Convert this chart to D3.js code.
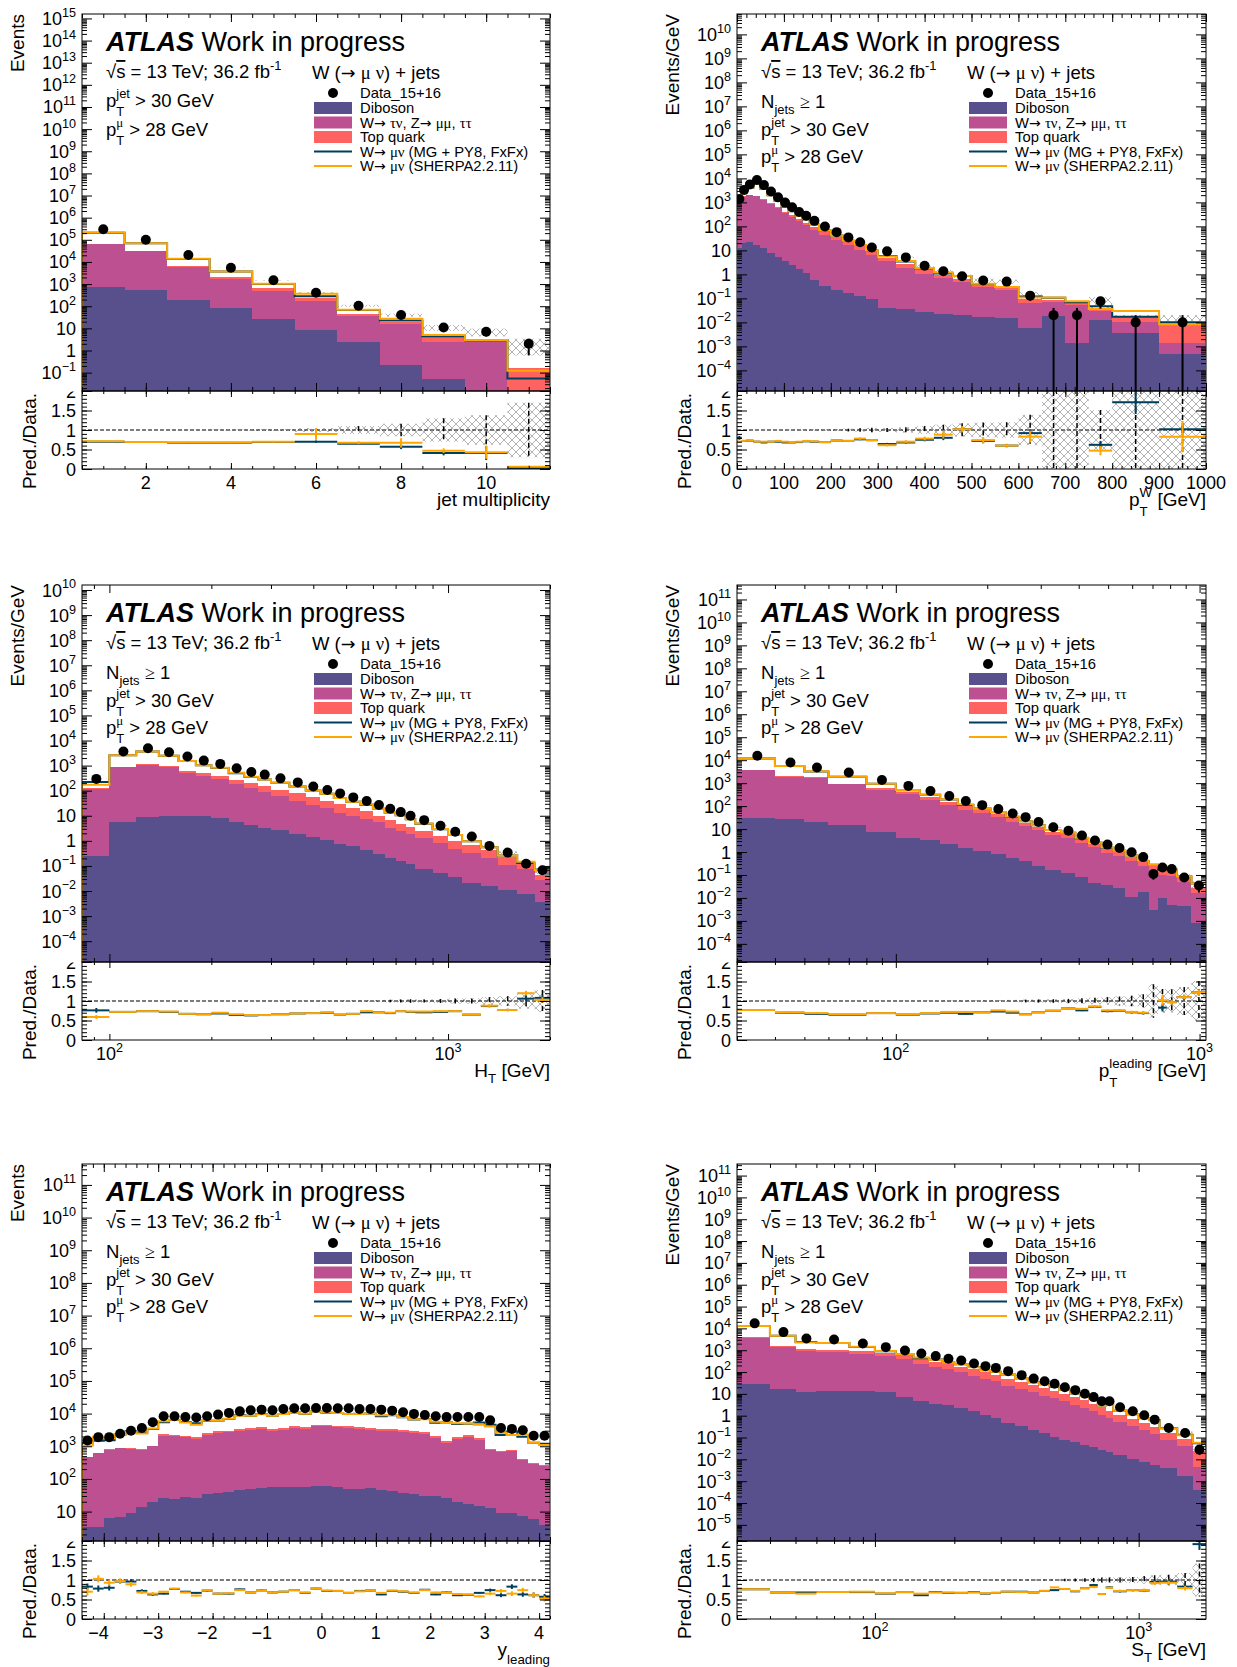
<!DOCTYPE html>
<html><head><meta charset="utf-8">
<script src="https://cdn.jsdelivr.net/npm/d3@7/dist/d3.min.js"></script>
<style>
html,body{margin:0;padding:0;background:#fff;}
svg{display:block;}
text{font-family:'Liberation Sans',Arial,Helvetica,sans-serif;white-space:pre;fill:#000;}
</style></head><body>
<svg id="chart" width="1237" height="1667" xmlns="http://www.w3.org/2000/svg"></svg>
<script>
// ---------------- Panel 1: jet multiplicity ----------------
const p1Edges = [0.5,1.5,2.5,3.5,4.5,5.5,6.5,7.5,8.5,9.5,10.5,11.5];
const p1Data = [300000,100000,20400,5500,1480,407,105,40,11,7,2];
const p1Dib = [720,550,195,79,27.5,8.1,2.5,0.21,0.05,0.005,0];
const p1Taunu = [65000,30000,5700,1660,485,162,32,14.9,2.35,2.7,0.005];
const p1Top = [1500,1200,860,400,163,64,11,4.4,1.67,0.2,0.15];
const p1MG = [210000,69000,13700,3680,1020,285,68,22.8,4.4,2.9,0.054];
const p1Sherpa = [213000,69000,13900,3740,1036,366,70,26.8,5.0,3.0,0.12];
const p1RatioMG = [0.70,0.69,0.67,0.67,0.69,0.70,0.65,0.57,0.41,0.41,0.027];
const p1RatioSh = [0.71,0.69,0.68,0.68,0.70,0.90,0.67,0.67,0.47,0.43,0.06];
const p1Err = [0.002,0.003,0.007,0.013,0.026,0.05,0.1,0.16,0.3,0.38,0.7];
const p1ErrMG = [0.01,0.01,0.01,0.01,0.02,0.03,0.03,0.06,0.06,0.18,0.01];
const p1ErrSh = [0.01,0.01,0.01,0.02,0.02,0.15,0.04,0.12,0.06,0.17,0.03];

// ---------------- Panel 2: pT W ----------------
const p2Edges = [0,10,20,35,50,65,80,95,110,125,140,155,175,200,225,250,275,300,340,380,420,460,500,550,600,650,700,750,800,900,1000];
const p2Data = [1380,3310,5620,8510,5250,2820,1620,977,631,398,275,170,98,57.5,34.7,21.9,13.2,9.1,5.1,2.3,1.35,0.83,0.56,0.50,0.13,0.02,0.02,0.076,0.01,0.01];
const p2Dib = [12.6,21,23,17,12.6,7.8,5.3,3.5,2.4,1.7,1.14,0.6,0.34,0.23,0.17,0.123,0.098,0.041,0.035,0.028,0.023,0.0195,0.017,0.0145,0.006,0.018,0.0014,0.0123,0.0037,0.0005];
const p2Taunu = [837,1719,2017,1843,1247,842,570,351,255,172,114,71,44.7,25.7,16.8,10.6,6.5,3.46,1.83,1.04,0.69,0.45,0.28,0.205,0.059,0.051,0.054,0.018,0.0065,0.0009];
const p2Top = [15,40,60,70,60,50,45,40,35,30,25,22,17,11,7,4.8,3.0,1.5,0.9,0.45,0.27,0.2,0.08,0.06,0.03,0.02,0.008,0.01,0.006,0.0077];
const p2MG = [1100,2380,4100,5960,3570,1974,1134,664,429,275,195,119,67.6,42,25,16.6,9.8,5.8,3.47,1.72,1.08,0.85,0.40,0.30,0.12,0.105,0.069,0.047,0.0171,0.0102];
const p2Sherpa = [966,2380,4160,5960,3675,1974,1166,684,435,279,198,121,67.6,42,25,17.1,9.8,5.55,3.57,1.79,1.19,0.85,0.41,0.30,0.108,0.11,0.075,0.036,0.03,0.0083];
const p2RatioMG = [0.80,0.72,0.73,0.70,0.68,0.70,0.70,0.68,0.68,0.69,0.71,0.70,0.69,0.73,0.72,0.76,0.74,0.64,0.68,0.75,0.80,1.02,0.72,0.60,0.92,5.2,3.5,0.62,1.71,1.02];
const p2RatioSh = [0.70,0.72,0.74,0.70,0.70,0.70,0.72,0.70,0.69,0.70,0.72,0.71,0.69,0.73,0.72,0.78,0.74,0.61,0.70,0.78,0.88,1.02,0.74,0.60,0.83,5.5,3.75,0.47,3.0,0.83];
const p2Err = [0.0085,0.0055,0.0034,0.0028,0.0036,0.0049,0.0064,0.0083,0.010,0.013,0.016,0.017,0.020,0.026,0.034,0.043,0.055,0.052,0.07,0.10,0.136,0.17,0.19,0.2,0.39,1,1,0.51,1,1];
const p2ErrMG = [0.05,0.01,0.01,0.01,0.01,0.01,0.01,0.01,0.01,0.01,0.01,0.01,0.01,0.01,0.01,0.02,0.02,0.03,0.03,0.04,0.06,0.07,0.06,0.04,0.1,0,0,0.1,0.3,0.1];
const p2ErrSh = [0.02,0.02,0.01,0.01,0.01,0.01,0.01,0.01,0.01,0.01,0.02,0.02,0.02,0.02,0.02,0.03,0.03,0.03,0.04,0.05,0.1,0.08,0.08,0.05,0.15,0,0,0.12,0.3,0.4];

// ---------------- Panel 3: HT ----------------
const p3Edges = [83,100,120,140,160,180,200,225,250,275,300,340,380,420,460,500,550,600,650,700,750,800,900,1000,1100,1250,1400,1600,1800,2000];
const p3Data = [295,3630,4900,3400,2290,1580,1170,780,560,437,310,214,148,107,78,54,39,27,19,14,10,6.7,4.0,2.3,1.48,0.63,0.34,0.123,0.067];
const p3Dib = [0.25,5.4,9.1,9.7,9.7,9.5,7.8,5.9,4.4,3.4,2.7,1.86,1.45,1.07,0.78,0.63,0.43,0.31,0.20,0.16,0.117,0.078,0.054,0.036,0.021,0.016,0.0107,0.0074,0.0036];
const p3Taunu = [117,845,1061,840,503,362,287,180,119,82,56,38,25.5,19,12.7,9.4,7.0,5.1,3.2,2.34,1.74,1.2,0.73,0.43,0.32,0.19,0.10,0.067,0.025];
const p3Top = [7,60,100,150,118,141,103,89,81,63,51,41,27,20,16,10.4,7.4,4.6,3.5,2.4,1.74,1.22,0.8,0.53,0.34,0.22,0.12,0.043,0.015];
const p3MG = [224,2614,3626,2448,1534,1043,796,499,353,280,205,146,102,75,50.7,36.2,27.7,19.2,13.1,10.4,7.2,4.76,2.88,1.70,0.96,0.55,0.26,0.130,0.072];
const p3Sherpa = [174,2614,3626,2482,1534,1043,819,515,358,280,205,146,102,76,50.7,36.2,28.9,19.2,13.3,10.4,7.3,4.9,2.96,1.70,0.96,0.555,0.26,0.148,0.069];
const p3RatioMG = [0.76,0.72,0.74,0.72,0.67,0.66,0.68,0.64,0.63,0.64,0.66,0.68,0.69,0.70,0.65,0.67,0.71,0.71,0.69,0.74,0.72,0.71,0.72,0.74,0.65,0.87,0.77,1.06,1.08];
const p3RatioSh = [0.59,0.72,0.74,0.73,0.67,0.66,0.70,0.66,0.64,0.64,0.66,0.68,0.69,0.71,0.65,0.67,0.74,0.71,0.70,0.74,0.73,0.73,0.74,0.74,0.65,0.88,0.77,1.20,1.03];
const p3Err = [0.014,0.0037,0.0032,0.0038,0.0047,0.0056,0.0058,0.0072,0.0085,0.0096,0.009,0.011,0.013,0.015,0.018,0.019,0.023,0.027,0.032,0.038,0.045,0.039,0.05,0.066,0.067,0.10,0.12,0.2,0.28];
const p3ErrMG = [0.06,0.01,0.01,0.01,0.01,0.01,0.01,0.01,0.01,0.01,0.01,0.01,0.01,0.01,0.01,0.01,0.01,0.01,0.01,0.01,0.01,0.02,0.02,0.02,0.02,0.03,0.03,0.06,0.08];
const p3ErrSh = [0.05,0.01,0.01,0.01,0.01,0.01,0.01,0.01,0.01,0.01,0.01,0.01,0.01,0.01,0.01,0.01,0.02,0.02,0.02,0.02,0.02,0.02,0.02,0.02,0.02,0.04,0.03,0.06,0.07];

// ---------------- Panel 4: pT leading ----------------
const p4Edges = [30,40,50,60,80,100,120,140,160,180,205,230,255,280,310,350,390,430,475,520,570,625,680,730,780,840,940,1050];
const p4Data = [15500,7940,4790,2890,1380,760,457,275,166,110,74,48,33,20.4,12,8.5,5.2,3.16,2.1,1.5,0.98,0.60,0.11,0.21,0.18,0.078,0.035];
const p4Dib = [29,27,20.4,14.7,7.2,4.1,3.2,2.2,1.5,1.07,0.81,0.55,0.39,0.25,0.16,0.12,0.078,0.047,0.037,0.026,0.0114,0.019,0.0030,0.0098,0.0049,0.0044,0.00078];
const p4Taunu = [3600,1833,1600,870,493,343,175,115,69.5,49,32,20.8,12.8,8.45,5.3,4.0,2.35,1.53,0.9,0.63,0.39,0.22,0.157,0.095,0.09,0.046,0.015];
const p4Top = [170,140,160,60,130,70,73,41,29,18,14,7.6,5.4,3.6,2.3,1.9,1.1,0.76,0.45,0.32,0.2,0.12,0.08,0.061,0.055,0.026,0.01];
const p4MG = [11900,5560,3210,1880,952,494,311,193,111,78,54,33.6,21.8,14.5,9.0,6.9,3.95,2.69,1.55,1.13,0.70,0.41,0.28,0.174,0.175,0.086,0.043];
const p4Sherpa = [11900,5640,3300,1910,952,502,315,198,120,78,56,35,21.8,14.5,9.0,6.9,4.16,2.72,1.60,1.14,0.71,0.42,0.28,0.214,0.175,0.086,0.043];
const p4RatioMG = [0.77,0.70,0.67,0.65,0.69,0.65,0.68,0.70,0.67,0.71,0.73,0.70,0.66,0.71,0.75,0.81,0.76,0.85,0.74,0.75,0.71,0.69,2.5,0.83,0.97,1.10,1.22];
const p4RatioSh = [0.77,0.71,0.69,0.66,0.69,0.66,0.69,0.72,0.72,0.71,0.76,0.73,0.66,0.71,0.75,0.81,0.80,0.86,0.76,0.76,0.72,0.70,2.5,1.02,0.97,1.10,1.22];
const p4Err = [0.0025,0.0035,0.0046,0.0042,0.006,0.008,0.0105,0.0135,0.017,0.019,0.023,0.029,0.035,0.04,0.046,0.054,0.069,0.084,0.10,0.115,0.136,0.174,0.43,0.31,0.30,0.36,0.51];
const p4ErrMG = [0.01,0.01,0.01,0.01,0.01,0.01,0.01,0.01,0.01,0.01,0.01,0.01,0.01,0.01,0.02,0.02,0.02,0.03,0.03,0.03,0.03,0.04,0.1,0.1,0.06,0.06,0.08];
const p4ErrSh = [0.01,0.01,0.01,0.01,0.01,0.01,0.01,0.01,0.01,0.01,0.01,0.01,0.01,0.01,0.02,0.02,0.02,0.03,0.03,0.03,0.03,0.04,0.1,0.14,0.06,0.06,0.08];

// ---------------- Panel 5: y leading ----------------
const p5Edges = [-4.4,-4.2,-4.0,-3.8,-3.6,-3.4,-3.2,-3.0,-2.8,-2.6,-2.4,-2.2,-2.0,-1.8,-1.6,-1.4,-1.2,-1.0,-0.8,-0.6,-0.4,-0.2,0,0.2,0.4,0.6,0.8,1.0,1.2,1.4,1.6,1.8,2.0,2.2,2.4,2.6,2.8,3.0,3.2,3.4,3.6,3.8,4.0,4.2];
const p5Data = [1510,1900,1900,2400,3000,3630,5400,8300,8300,7900,7600,8300,9300,10500,11700,12600,13200,12600,13800,14500,14500,14800,14800,14500,14500,13800,13800,13200,12300,11000,9800,9100,8300,7800,7900,7900,7900,6200,3630,3400,3100,2100,2100];
const p5Dib = [3.3,3.3,6.3,7.0,9.3,14.2,19,26,24.5,27.7,27,34,36,41,46,50,52,56,56,56,56,59,59,56,48.5,50,52,46,44,36,34,31,29,26,20,17,15,12.6,9.3,8.9,7.4,5.8,3.9];
const p5Taunu = [462,617,774,863,821,766,971,2074,1976,1872,1633,2206,2514,2639,2834,3190,3348,2974,3184,3574,3344,4011,4011,3744,3582,3350,3188,2834,2986,2644,2516,2319,1751,1234,1640,1883,1585,767,681,691,378,284,246];
const p5Top = [15,20,30,40,40,40,60,200,220,220,200,280,330,350,380,420,440,420,430,480,450,520,520,500,480,450,430,390,400,360,340,320,250,180,220,250,220,60,50,50,30,20,18];
const p5MG = [1253,1482,1520,2304,2880,2614,3402,5395,6391,5530,5092,6059,6045,6825,8892,8568,9636,8568,9660,10730,9715,11544,10656,10440,9715,9936,10074,8316,8856,7700,6566,6825,5229,5304,4819,4898,5293,4588,2214,2822,1953,1281,1197];
const p5Sherpa = [1057,1957,1767,2328,2670,2468,3510,5810,6474,5372,4560,6142,6045,6930,8658,8568,9504,8568,9660,10730,9860,11544,10804,10440,9715,9798,10074,8844,8979,7810,6664,6734,5644,5226,5056,4977,4582,4030,2614,2210,2294,1281,1092];
const p5RatioMG = [0.83,0.78,0.80,0.96,0.96,0.72,0.63,0.65,0.77,0.70,0.67,0.73,0.65,0.65,0.76,0.68,0.73,0.68,0.70,0.74,0.67,0.78,0.72,0.72,0.67,0.72,0.73,0.63,0.72,0.70,0.67,0.75,0.63,0.68,0.61,0.62,0.67,0.74,0.61,0.83,0.63,0.61,0.57];
const p5RatioSh = [0.70,1.03,0.93,0.97,0.89,0.68,0.65,0.70,0.78,0.68,0.60,0.74,0.65,0.66,0.74,0.68,0.72,0.68,0.70,0.74,0.68,0.78,0.73,0.72,0.67,0.71,0.73,0.67,0.73,0.71,0.68,0.74,0.68,0.67,0.64,0.63,0.58,0.65,0.72,0.65,0.74,0.61,0.52];
const p5Err = [0.026,0.023,0.023,0.02,0.018,0.017,0.014,0.011,0.011,0.011,0.011,0.011,0.010,0.010,0.009,0.009,0.009,0.009,0.009,0.008,0.008,0.008,0.008,0.008,0.008,0.009,0.009,0.009,0.009,0.01,0.01,0.01,0.011,0.011,0.011,0.011,0.011,0.013,0.017,0.017,0.018,0.022,0.022];
const p5ErrMG = [0.08,0.08,0.07,0.06,0.06,0.04,0.04,0.02,0.02,0.02,0.02,0.02,0.02,0.02,0.02,0.02,0.02,0.02,0.02,0.02,0.02,0.02,0.02,0.02,0.02,0.02,0.02,0.02,0.02,0.02,0.02,0.02,0.02,0.02,0.02,0.02,0.02,0.04,0.05,0.06,0.06,0.07,0.07];
const p5ErrSh = [0.1,0.09,0.08,0.07,0.06,0.04,0.04,0.02,0.02,0.02,0.02,0.02,0.02,0.02,0.02,0.02,0.02,0.02,0.02,0.02,0.02,0.02,0.02,0.02,0.02,0.02,0.02,0.02,0.02,0.02,0.02,0.02,0.02,0.02,0.02,0.02,0.02,0.04,0.05,0.06,0.06,0.07,0.07];

// ---------------- Panel 6: ST ----------------
const p6Edges = [30,40,50,60,80,100,120,140,160,180,200,225,250,275,300,340,380,420,460,500,550,600,650,700,750,800,900,1000,1100,1200,1400,1600,1800];
const p6Data = [17000,6760,3470,3090,2040,1380,977,708,537,407,339,245,186,155,110,72,50,38,28.8,20,14.8,10.2,7.1,4.6,4.6,2.45,1.59,1.05,0.66,0.275,0.162,0.028];
const p6Dib = [29,17.4,12,13,13,12,7.2,4.6,3.5,3.0,2.3,1.6,1.1,0.78,0.47,0.33,0.23,0.16,0.11,0.079,0.060,0.047,0.035,0.028,0.021,0.016,0.0107,0.0075,0.0056,0.0040,0.00165,0.0004];
const p6Taunu = [3691,1363,898,802,677,525,373,240,170.5,129,95.7,67.4,47.9,37.2,23.5,16.7,11.8,8.14,6.39,4.52,3.14,2.25,1.57,1.02,0.76,0.484,0.319,0.2025,0.144,0.075,0.0373,0.004];
const p6Top = [450,170,190,160,220,220,195,160,120,92,76,63,49,39,26,18.5,13,10.5,6.5,5.4,3.9,2.8,1.9,1.35,0.92,0.55,0.38,0.26,0.15,0.081,0.046,0.02];
const p6MG = [12920,4597,2360,2132,1408,897,674,432,371,273,227,169,121,104,77,50.4,34,27.4,21.3,15.4,10.5,8.06,6.18,2.94,3.73,1.74,1.18,0.77,0.63,0.264,0.134,0.054];
const p6Sherpa = [12920,4597,2256,2132,1428,911,674,460,365,277,227,167,123,104,77,49.7,34,27.4,23.3,15.4,10.7,8.06,5.82,2.94,3.68,1.76,1.18,0.78,0.61,0.256,0.128,0.057];
const p6RatioMG = [0.76,0.68,0.68,0.69,0.69,0.65,0.69,0.61,0.69,0.67,0.67,0.69,0.65,0.67,0.70,0.70,0.68,0.72,0.74,0.77,0.71,0.79,0.87,0.64,0.81,0.71,0.74,0.73,0.95,0.96,0.83,1.92];
const p6RatioSh = [0.76,0.68,0.65,0.69,0.70,0.66,0.69,0.65,0.68,0.68,0.67,0.68,0.66,0.67,0.70,0.69,0.68,0.72,0.81,0.77,0.72,0.79,0.82,0.64,0.80,0.72,0.74,0.74,0.92,0.93,0.79,2.05];
const p6Err = [0.0024,0.0038,0.0054,0.004,0.005,0.006,0.007,0.0084,0.0096,0.011,0.011,0.0128,0.0147,0.016,0.015,0.019,0.022,0.026,0.029,0.032,0.037,0.044,0.053,0.066,0.066,0.064,0.079,0.098,0.12,0.135,0.18,0.42];
const p6ErrMG = [0.01,0.01,0.01,0.01,0.01,0.01,0.01,0.01,0.01,0.01,0.01,0.01,0.01,0.01,0.01,0.01,0.01,0.01,0.01,0.01,0.02,0.02,0.03,0.02,0.03,0.03,0.03,0.04,0.05,0.05,0.06,0.15];
const p6ErrSh = [0.01,0.01,0.01,0.01,0.01,0.01,0.01,0.01,0.01,0.01,0.01,0.01,0.01,0.01,0.01,0.01,0.01,0.01,0.01,0.01,0.02,0.02,0.03,0.02,0.03,0.03,0.03,0.04,0.05,0.05,0.06,0.15];

// ---------------- labels ----------------
const legendLabels = ['Data_15+16','Diboson','W→ τν, Z→ μμ, ττ','Top quark','W→ μν (MG + PY8, FxFx)','W→ μν (SHERPA2.2.11)'];
const ratioTickLabels = ['0','0.5','1','1.5','2'];

// ---------------- style ----------------
const SERIF = "'Liberation Serif','DejaVu Serif',serif";
const ARROWF = "'DejaVu Sans','Liberation Sans',sans-serif";
const COL = {dib:'#58508d', tau:'#bc5090', top:'#ff6361', mg:'#003f5c', sh:'#ffa600', hatch:'#b4b4b4'};
const H = 377, HR = 78;
const FT = 18, FTITLE = 19, FINFO = 18.5, FLEG = 14.8;

const panels = [
  {x0:82, y0:14, w:468, xLog:false, xDomain:[0.5,11.5], yExp:[-1.83,15.2], yLab:[-1,15], yTitle:'Events', njets:false,
   xMajor:[2,4,6,8,10], xMinor:d3.range(0.5,11.51,0.5), xLabels:[2,4,6,8,10].map(v=>({v,parts:[String(v)]})),
   xTitle:['jet multiplicity'],
   edges:p1Edges,data:p1Data,dib:p1Dib,taunu:p1Taunu,top:p1Top,mg:p1MG,sh:p1Sherpa,rMG:p1RatioMG,rSh:p1RatioSh,err:p1Err,eMG:p1ErrMG,eSh:p1ErrSh},
  {x0:737, y0:14, w:469, xLog:false, xDomain:[0,1000], yExp:[-4.86,10.85], yLab:[-4,10], yTitle:'Events/GeV', njets:true,
   xMajor:d3.range(0,1001,100), xMinor:d3.range(0,1001,20), xLabels:d3.range(0,1001,100).map(v=>({v,parts:[String(v)]})),
   xTitle:['p',{sup:'W',sub:'T'},' [GeV]'],
   edges:p2Edges,data:p2Data,dib:p2Dib,taunu:p2Taunu,top:p2Top,mg:p2MG,sh:p2Sherpa,rMG:p2RatioMG,rSh:p2RatioSh,err:p2Err,eMG:p2ErrMG,eSh:p2ErrSh},
  {x0:82, y0:585, w:468, xLog:true, xDomain:[83,2000], yExp:[-4.83,10.2], yLab:[-4,10], yTitle:'Events/GeV', njets:true,
   xMajor:[100,1000], xMinor:[90,200,300,400,500,600,700,800,900,2000], xLabels:[{v:100,parts:['10',{sup:'2'}]},{v:1000,parts:['10',{sup:'3'}]}],
   xTitle:['H',{sub:'T'},' [GeV]'],
   edges:p3Edges,data:p3Data,dib:p3Dib,taunu:p3Taunu,top:p3Top,mg:p3MG,sh:p3Sherpa,rMG:p3RatioMG,rSh:p3RatioSh,err:p3Err,eMG:p3ErrMG,eSh:p3ErrSh},
  {x0:737, y0:585, w:469, xLog:true, xDomain:[30,1050], yExp:[-4.79,11.63], yLab:[-4,11], yTitle:'Events/GeV', njets:true,
   xMajor:[100,1000], xMinor:[30,40,50,60,70,80,90,200,300,400,500,600,700,800,900], xLabels:[{v:100,parts:['10',{sup:'2'}]},{v:1000,parts:['10',{sup:'3'}]}],
   xTitle:['p',{sup:'leading',sub:'T'},' [GeV]'],
   edges:p4Edges,data:p4Data,dib:p4Dib,taunu:p4Taunu,top:p4Top,mg:p4MG,sh:p4Sherpa,rMG:p4RatioMG,rSh:p4RatioSh,err:p4Err,eMG:p4ErrMG,eSh:p4ErrSh},
  {x0:82, y0:1164, w:468, xLog:false, xDomain:[-4.4,4.2], yExp:[0.10,11.64], yLab:[1,11], yTitle:'Events', njets:true,
   xMajor:d3.range(-4,4.01,1), xMinor:d3.range(-4.4,4.21,0.2), xLabels:d3.range(-4,4.01,1).map(v=>({v,parts:[String(Math.abs(v))]})),
   xTitle:['y',{sub:'leading',down:0.42}],
   edges:p5Edges,data:p5Data,dib:p5Dib,taunu:p5Taunu,top:p5Top,mg:p5MG,sh:p5Sherpa,rMG:p5RatioMG,rSh:p5RatioSh,err:p5Err,eMG:p5ErrMG,eSh:p5ErrSh},
  {x0:737, y0:1164, w:469, xLog:true, xDomain:[30,1800], yExp:[-5.74,11.53], yLab:[-5,11], yTitle:'Events/GeV', njets:true,
   xMajor:[100,1000], xMinor:[30,40,50,60,70,80,90,200,300,400,500,600,700,800,900], xLabels:[{v:100,parts:['10',{sup:'2'}]},{v:1000,parts:['10',{sup:'3'}]}],
   xTitle:['S',{sub:'T'},' [GeV]'],
   edges:p6Edges,data:p6Data,dib:p6Dib,taunu:p6Taunu,top:p6Top,mg:p6MG,sh:p6Sherpa,rMG:p6RatioMG,rSh:p6RatioSh,err:p6Err,eMG:p6ErrMG,eSh:p6ErrSh}
];

const svg = d3.select('#chart');
const defs = svg.append('defs');
const pat = defs.append('pattern').attr('id','hatch').attr('width',8).attr('height',8).attr('patternUnits','userSpaceOnUse');
pat.append('path').attr('d','M0,0L8,8M8,0L0,8').attr('stroke',COL.hatch).attr('stroke-width',1).attr('fill','none');

function rich(parent, x, y, parts, size, anchor) {
  const g = parent.append('g');
  let cx = 0;
  parts.forEach(p0 => {
    const p = (typeof p0 === 'string') ? {t:p0} : p0;
    if (p.t !== undefined) {
      const t = g.append('text').attr('x', cx).attr('y', 0).attr('font-size', size * (p.fs || 1)).text(p.t);
      if (p.serif) t.style('font-family', SERIF);
      if (p.arrow) t.style('font-family', ARROWF);
      if (p.bold) t.attr('font-weight', 'bold');
      if (p.italic) t.attr('font-style', 'italic');
      if (p.over) t.attr('text-decoration', 'overline');
      cx += t.node().getComputedTextLength() + (p.gap || 0);
    } else {
      const fs = size * (p.scale || 0.7);
      const both = p.sup !== undefined && p.sub !== undefined;
      let w = 0;
      if (p.sup !== undefined) {
        const t = g.append('text').attr('x', cx).attr('y', -size * (p.up || (both ? 0.48 : 0.42))).attr('font-size', fs).text(p.sup);
        if (p.supSerif) t.style('font-family', SERIF);
        w = Math.max(w, t.node().getComputedTextLength());
      }
      if (p.sub !== undefined) {
        const t = g.append('text').attr('x', cx).attr('y', size * (p.down || (both ? 0.5 : 0.3))).attr('font-size', fs).text(p.sub);
        w = Math.max(w, t.node().getComputedTextLength());
      }
      cx += w + (p.gap || 0);
    }
  });
  const ox = anchor === 'end' ? x - cx : (anchor === 'middle' ? x - cx / 2 : x);
  g.attr('transform', `translate(${ox},${y})`);
  return cx;
}

function ticks(g, axisFn, scale, values, len, tx, ty) {
  const ax = axisFn(scale).tickValues(values).tickSize(len).tickFormat('');
  const s = g.append('g').attr('transform', `translate(${tx},${ty})`).call(ax);
  s.select('.domain').remove();
  s.selectAll('line').attr('stroke', '#000').attr('stroke-width', 1);
  s.selectAll('text').remove();
}

function logMinor(e0, e1) {
  const out = [];
  for (let e = Math.floor(e0); e <= Math.ceil(e1); e++)
    for (let k = 2; k <= 9; k++) { const l = Math.log10(k) + e; if (l > e0 && l < e1) out.push(Math.pow(10, l)); }
  return out;
}

const AR = {t: '→', arrow: true, fs: 0.95};

function drawPanel(P, idx) {
  const x0 = P.x0, x1 = P.x0 + P.w, yT = P.y0, yB = P.y0 + H, rT = yB, rB = yB + HR;
  const x = (P.xLog ? d3.scaleLog() : d3.scaleLinear()).domain(P.xDomain).range([x0, x1]);
  const y = d3.scaleLog().domain([Math.pow(10, P.yExp[0]), Math.pow(10, P.yExp[1])]).range([yB, yT]).clamp(true);
  const Y = v => v > 0 ? y(v) : yB;
  const yr = d3.scaleLinear().domain([0, 2]).range([rB, rT]).clamp(true);
  const bins = P.edges.slice(0, -1).map((lo, i) => ({lo, hi: P.edges[i + 1], i}));
  const cx = b => x((b.lo + b.hi) / 2);
  const g = svg.append('g');

  defs.append('clipPath').attr('id', 'cm' + idx).append('rect').attr('x', x0).attr('y', yT).attr('width', P.w).attr('height', H);
  defs.append('clipPath').attr('id', 'cr' + idx).append('rect').attr('x', x0).attr('y', rT).attr('width', P.w).attr('height', HR);
  defs.append('clipPath').attr('id', 'cl' + idx).append('rect').attr('x', x0 - 80).attr('y', rT + 0.5).attr('width', 80).attr('height', HR + 20);

  // ---- main pad ----
  const gm = g.append('g').attr('clip-path', `url(#cm${idx})`);
  gm.append('g').selectAll('rect').data(bins).join('rect')
    .attr('x', b => x(b.lo)).attr('width', b => x(b.hi) - x(b.lo))
    .attr('y', b => Y(P.data[b.i] * (1 + P.err[b.i])))
    .attr('height', b => Y(P.data[b.i] * (1 - P.err[b.i])) - Y(P.data[b.i] * (1 + P.err[b.i])))
    .attr('fill', 'url(#hatch)');

  const stack = d3.stack().keys(['dib', 'taunu', 'top'])(bins.map(b => ({dib: P.dib[b.i], taunu: P.taunu[b.i], top: P.top[b.i]})));
  const area = d3.area().x(d => d.x).y0(d => d.b).y1(d => d.t);
  const cols = [COL.dib, COL.tau, COL.top];
  stack.forEach((layer, li) => {
    const pts = [];
    bins.forEach(b => {
      const lo = li === 0 ? yB : Y(layer[b.i][0]);
      const hi = Y(layer[b.i][1]);
      pts.push({x: x(b.lo), b: lo, t: hi}); pts.push({x: x(b.hi), b: lo, t: hi});
    });
    gm.append('path').attr('d', area(pts)).attr('fill', cols[li]).attr('shape-rendering', 'crispEdges');
  });

  const stepLine = vals => {
    const p = [[x(bins[0].lo), yB]];
    bins.forEach(b => { p.push([x(b.lo), Y(vals[b.i])]); p.push([x(b.hi), Y(vals[b.i])]); });
    p.push([x(bins[bins.length - 1].hi), yB]);
    return d3.line()(p);
  };
  gm.append('path').attr('d', stepLine(P.mg)).attr('fill', 'none').attr('stroke', COL.mg).attr('stroke-width', 2);
  gm.append('path').attr('d', stepLine(P.sh)).attr('fill', 'none').attr('stroke', COL.sh).attr('stroke-width', 2);

  gm.append('g').selectAll('line').data(bins).join('line')
    .attr('x1', cx).attr('x2', cx)
    .attr('y1', b => Y(P.data[b.i] * (1 + P.err[b.i]))).attr('y2', b => Y(P.data[b.i] * (1 - P.err[b.i])))
    .attr('stroke', '#000').attr('stroke-width', 2);
  gm.append('g').selectAll('circle').data(bins).join('circle')
    .attr('cx', cx).attr('cy', b => Y(P.data[b.i])).attr('r', 5).attr('fill', '#000');

  // ---- ratio pad ----
  const gr = g.append('g').attr('clip-path', `url(#cr${idx})`);
  gr.append('g').selectAll('rect').data(bins).join('rect')
    .attr('x', b => x(b.lo)).attr('width', b => x(b.hi) - x(b.lo))
    .attr('y', b => yr(1 + P.err[b.i])).attr('height', b => yr(1 - P.err[b.i]) - yr(1 + P.err[b.i]))
    .attr('fill', 'url(#hatch)');
  gr.append('line').attr('x1', x0).attr('x2', x1).attr('y1', yr(1)).attr('y2', yr(1))
    .attr('stroke', '#000').attr('stroke-width', 1.2).attr('stroke-dasharray', '4,2');
  gr.append('g').selectAll('line').data(bins.filter(b => P.err[b.i] > 0.03)).join('line')
    .attr('x1', cx).attr('x2', cx).attr('y1', b => yr(1 + P.err[b.i])).attr('y2', b => yr(1 - P.err[b.i]))
    .attr('stroke', '#000').attr('stroke-width', 1.5).attr('stroke-dasharray', '5,3');
  const drawRatio = (r, e, col) => {
    const ok = bins.filter(b => r[b.i] >= 0 && r[b.i] <= 2);
    const gg = gr.append('g');
    gg.selectAll('line.h').data(ok).join('line').attr('class', 'h')
      .attr('x1', b => x(b.lo)).attr('x2', b => x(b.hi)).attr('y1', b => yr(r[b.i])).attr('y2', b => yr(r[b.i]))
      .attr('stroke', col).attr('stroke-width', 2);
    gg.selectAll('line.v').data(ok).join('line').attr('class', 'v')
      .attr('x1', cx).attr('x2', cx).attr('y1', b => yr(r[b.i] + e[b.i])).attr('y2', b => yr(r[b.i] - e[b.i]))
      .attr('stroke', col).attr('stroke-width', 2);
  };
  drawRatio(P.rMG, P.eMG, COL.mg);
  drawRatio(P.rSh, P.eSh, COL.sh);

  // ---- frames & ticks ----
  const ga = g.append('g');
  const majY = d3.range(Math.ceil(P.yExp[0]), Math.floor(P.yExp[1]) + 1).map(e => Math.pow(10, e));
  const minY = logMinor(P.yExp[0], P.yExp[1]);
  ticks(ga, d3.axisRight, y, majY, 10, x0, 0);
  ticks(ga, d3.axisRight, y, minY, 5, x0, 0);
  ticks(ga, d3.axisLeft, y, majY, 10, x1, 0);
  ticks(ga, d3.axisLeft, y, minY, 5, x1, 0);
  ticks(ga, d3.axisBottom, x, P.xMajor, 8, 0, yT);
  ticks(ga, d3.axisBottom, x, P.xMinor, 4, 0, yT);
  ticks(ga, d3.axisTop, x, P.xMajor, 8, 0, yB);
  ticks(ga, d3.axisTop, x, P.xMinor, 4, 0, yB);
  const rMaj = [0, 0.5, 1, 1.5, 2], rMin = d3.range(0, 2.01, 0.1);
  ticks(ga, d3.axisRight, yr, rMaj, 10, x0, 0);
  ticks(ga, d3.axisRight, yr, rMin, 5, x0, 0);
  ticks(ga, d3.axisLeft, yr, rMaj, 10, x1, 0);
  ticks(ga, d3.axisLeft, yr, rMin, 5, x1, 0);
  ticks(ga, d3.axisBottom, x, P.xMajor, 6, 0, rT);
  ticks(ga, d3.axisBottom, x, P.xMinor, 3, 0, rT);
  ticks(ga, d3.axisTop, x, P.xMajor, 6, 0, rB);
  ticks(ga, d3.axisTop, x, P.xMinor, 3, 0, rB);
  ga.append('rect').attr('x', x0).attr('y', yT).attr('width', P.w).attr('height', H).attr('fill', 'none').attr('stroke', '#000');
  ga.append('rect').attr('x', x0).attr('y', rT).attr('width', P.w).attr('height', HR).attr('fill', 'none').attr('stroke', '#000');

  // ---- tick labels ----
  for (let e = P.yLab[0]; e <= P.yLab[1]; e++) {
    const parts = e === 0 ? ['1'] : e === 1 ? ['10'] : ['10', {sup: e < 0 ? '−' + (-e) : String(e), up: 0.45}];
    rich(ga, x0 - 6, y(Math.pow(10, e)) + 6.5, parts, FT, 'end');
  }
  const gl = ga.append('g').attr('clip-path', `url(#cl${idx})`);
  rMaj.forEach((v, i) => rich(gl, x0 - 6, yr(v) + 6.5, [ratioTickLabels[i]], FT, 'end'));
  P.xLabels.forEach(l => {
    const w = rich(ga, x(l.v), rB + 20, l.parts, FT, 'middle');
    if (l.v < 0) ga.append('text').attr('x', x(l.v) - w / 2).attr('y', rB + 20).attr('text-anchor', 'end').attr('font-size', FT).text('−');
  });

  // ---- titles ----
  ga.append('text').attr('transform', `translate(${x0 - 58},${yT}) rotate(-90)`).attr('text-anchor', 'end').attr('font-size', FTITLE).text(P.yTitle);
  ga.append('text').attr('transform', `translate(${x0 - 46},${rT + 2}) rotate(-90)`).attr('text-anchor', 'end').attr('font-size', FTITLE).text('Pred./Data.');
  rich(ga, x1, rB + 37, P.xTitle, FTITLE, 'end');

  // ---- annotations ----
  const gt = g.append('g');
  rich(gt, x0 + 24, yT + 37, [{t: 'ATLAS', bold: true, italic: true}, ' Work in progress'], 27);
  rich(gt, x0 + 24, yT + 64, ['√', {t: 's', over: true}, ' = 13 TeV; 36.2 fb', {sup: '-1'}], FINFO);
  rich(gt, x0 + 230, yT + 65, ['W (', AR, ' ', {t: 'μ', serif: true}, ' ', {t: 'ν', serif: true}, ') + jets'], FINFO);
  const ys = P.njets ? [94, 122, 149] : [null, 93, 122];
  if (P.njets) rich(gt, x0 + 24, yT + ys[0], ['N', {sub: 'jets'}, ' ', {t: '≥', serif: true}, ' 1'], FINFO);
  rich(gt, x0 + 24, yT + ys[1], ['p', {sup: 'jet', sub: 'T'}, ' > 30 GeV'], FINFO);
  rich(gt, x0 + 24, yT + ys[2], ['p', {sup: 'μ', sub: 'T', supSerif: true}, ' > 28 GeV'], FINFO);

  // ---- legend ----
  const LX = x0 + 232, LW = 38, LT = x0 + 278;
  const rows = [79, 94, 108.5, 123, 137.5, 152].map(v => yT + v);
  gt.append('circle').attr('cx', LX + LW / 2).attr('cy', rows[0]).attr('r', 5).attr('fill', '#000');
  [COL.dib, COL.tau, COL.top].forEach((c, i) => gt.append('rect').attr('x', LX).attr('y', rows[i + 1] - 6).attr('width', LW).attr('height', 12).attr('fill', c));
  [COL.mg, COL.sh].forEach((c, i) => gt.append('line').attr('x1', LX).attr('x2', LX + LW).attr('y1', rows[i + 4]).attr('y2', rows[i + 4]).attr('stroke', c).attr('stroke-width', 2));
  const legParts = [
    [legendLabels[0]], [legendLabels[1]],
    ['W', AR, ' ', {t: 'τν', serif: true}, ', Z', AR, ' ', {t: 'μμ', serif: true}, ', ', {t: 'ττ', serif: true}],
    [legendLabels[3]],
    ['W', AR, ' ', {t: 'μν', serif: true}, ' (MG + PY8, FxFx)'],
    ['W', AR, ' ', {t: 'μν', serif: true}, ' (SHERPA2.2.11)']
  ];
  legParts.forEach((p, i) => rich(gt, LT, rows[i] + 5.3, p, FLEG));
}

panels.forEach((P, i) => drawPanel(P, i));
</script>
</body></html>
